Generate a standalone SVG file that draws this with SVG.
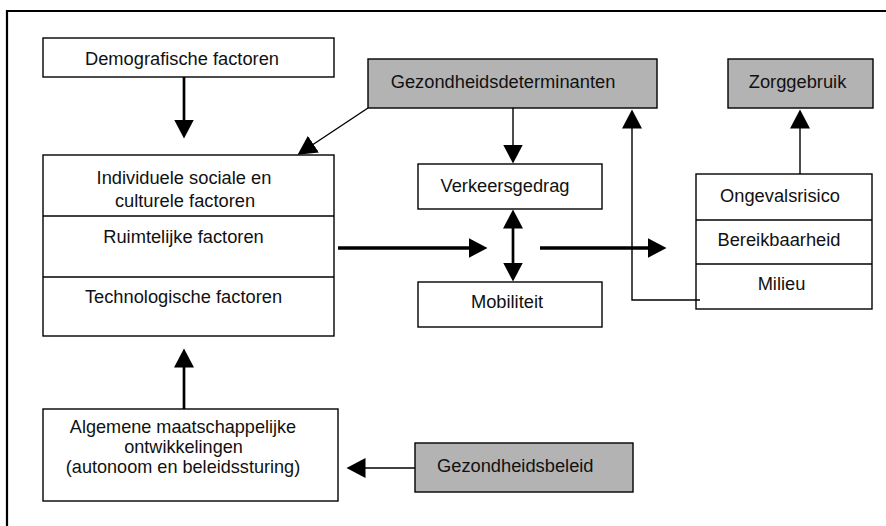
<svg xmlns="http://www.w3.org/2000/svg" width="886" height="526" viewBox="0 0 886 526">
<style>
.box{fill:#fff;stroke:#000;stroke-width:1.4}
.grey{fill:#b3b3b3;stroke:#000;stroke-width:1.4}
.sep{stroke:#000;stroke-width:1.4}
text{font-family:"Liberation Sans",Arial,sans-serif;font-size:18.3px;fill:#111;text-anchor:middle}
.c{fill:none;stroke:#000}
.thin{stroke-width:1.4}
.mid{stroke-width:2.7}
.thick{stroke-width:3.6}
</style>
<defs>
<marker id="ah" markerUnits="userSpaceOnUse" markerWidth="20" markerHeight="20" refX="0.5" refY="10" orient="auto-start-reverse" viewBox="0 0 20 20">
<path d="M0,0 L19,10 L0,20 z" fill="#000"/>
</marker>
</defs>
<rect width="886" height="526" fill="#fff"/>
<path d="M7,526 L7,11 L886,11" fill="none" stroke="#000" stroke-width="2.2"/>

<g id="demografische">
<rect class="box" x="43" y="38" width="291" height="39"/>
<text x="182" y="65">Demografische factoren</text>
</g>
<g id="gezondheidsdeterminanten">
<rect class="grey" x="368" y="59" width="289" height="49"/>
<text x="503" y="88">Gezondheidsdeterminanten</text>
</g>
<g id="zorggebruik">
<rect class="grey" x="728" y="59" width="145" height="49"/>
<text x="797.5" y="88">Zorggebruik</text>
</g>
<g id="factoren">
<rect class="box" x="43" y="155" width="291" height="181"/>
<line class="sep" x1="43" y1="216" x2="334" y2="216"/>
<line class="sep" x1="43" y1="277" x2="334" y2="277"/>
<text x="184" y="183.5">Individuele sociale en</text>
<text x="185" y="207">culturele factoren</text>
<text x="183.5" y="243">Ruimtelijke factoren</text>
<text x="183.5" y="303">Technologische factoren</text>
</g>
<g id="verkeersgedrag">
<rect class="box" x="418" y="164" width="184" height="45"/>
<text x="505" y="192">Verkeersgedrag</text>
</g>
<g id="mobiliteit">
<rect class="box" x="418" y="282" width="184" height="45"/>
<text x="507" y="308">Mobiliteit</text>
</g>
<g id="gevolgen">
<rect class="box" x="696" y="174" width="176" height="135"/>
<line class="sep" x1="696" y1="220" x2="872" y2="220"/>
<line class="sep" x1="696" y1="264" x2="872" y2="264"/>
<text x="780" y="202">Ongevalsrisico</text>
<text x="779" y="246">Bereikbaarheid</text>
<text x="781.5" y="290">Milieu</text>
</g>
<g id="algemene">
<rect class="box" x="43" y="409" width="295" height="92"/>
<text x="183" y="432.5" style="font-size:18.1px">Algemene maatschappelijke</text>
<text x="183.5" y="452.8" style="font-size:18.1px">ontwikkelingen</text>
<text x="183" y="473.2" style="font-size:18.1px">(autonoom en beleidssturing)</text>
</g>
<g id="gezondheidsbeleid">
<rect class="grey" x="415" y="443" width="218" height="49" stroke-width="2.2"/>
<text x="437" y="472" style="text-anchor:start">Gezondheidsbeleid</text>
</g>

<g id="connectors">
<line class="c mid" x1="184" y1="77" x2="184" y2="120" marker-end="url(#ah)"/>
<line class="c thin" x1="368" y1="108" x2="313" y2="144.5" marker-end="url(#ah)"/>
<line class="c thin" x1="513" y1="108" x2="513" y2="145" marker-end="url(#ah)"/>
<polyline class="c thin" points="700,300 632,300 632,128" marker-end="url(#ah)"/>
<line class="c thin" x1="800" y1="174" x2="800" y2="128" marker-end="url(#ah)"/>
<line class="c thick" x1="338" y1="248" x2="469" y2="248" marker-end="url(#ah)"/>
<line class="c mid" x1="513" y1="228" x2="513" y2="263" marker-start="url(#ah)" marker-end="url(#ah)"/>
<line class="c thick" x1="540" y1="248" x2="648" y2="248" marker-end="url(#ah)"/>
<line class="c mid" x1="184" y1="409" x2="184" y2="367" marker-end="url(#ah)"/>
<line class="c thin" x1="415" y1="468" x2="365" y2="468" marker-end="url(#ah)"/>
</g>
</svg>
